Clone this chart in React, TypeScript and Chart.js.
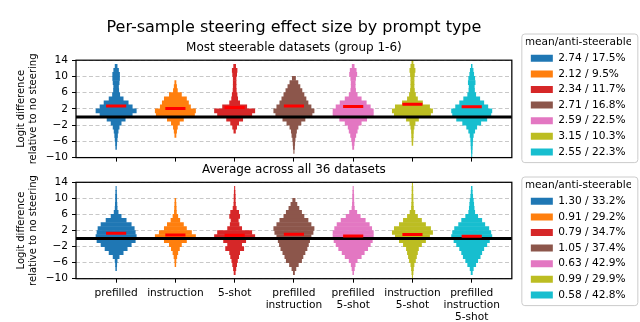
import React, { useEffect, useRef } from 'react';
import { Chart, registerables } from 'chart.js';

Chart.register(...registerables);

// ---------- data ----------
const categories: string[][] = [
  ['prefilled'],
  ['instruction'],
  ['5-shot'],
  ['prefilled', 'instruction'],
  ['prefilled', '5-shot'],
  ['instruction', '5-shot'],
  ['prefilled', 'instruction', '5-shot'],
];
const violinColors = ['#1f77b4', '#ff7f0e', '#d62728', '#8c564b', '#e377c2', '#bcbd22', '#17becf'];
const yTickValues = [-10, -6, -2, 2, 6, 10, 14];
// lower edges of the 1-unit histogram bins
const binLows = [-10, -9, -8, -7, -6, -5, -4, -3, -2, -1, 0, 1, 2, 3, 4, 5, 6, 7, 8, 9, 10, 11, 12, 13];

const topMeans = [2.74, 2.12, 2.34, 2.71, 2.59, 3.15, 2.55];
const topAntiSteerable = [17.5, 9.5, 11.7, 16.8, 22.5, 10.3, 22.3];
const bottomMeans = [1.3, 0.91, 0.79, 1.05, 0.63, 0.99, 0.58];
const bottomAntiSteerable = [33.2, 29.2, 34.7, 37.4, 42.9, 29.9, 42.8];

// relative violin widths per bin (1 = widest)
const topPrefilled = [0, 0, 0.02, 0.03, 0.05, 0.07, 0.1, 0.15, 0.25, 0.45, 0.8, 1.0, 0.8, 0.6, 0.35, 0.18, 0.13, 0.12, 0.15, 0.17, 0.17, 0.12, 0.05, 0];
const topInstruction = [0, 0, 0, 0, 0, 0.03, 0.06, 0.1, 0.2, 0.4, 0.95, 1.0, 0.75, 0.65, 0.55, 0.3, 0.1, 0.06, 0.03, 0, 0, 0, 0, 0];
const topFiveShot = [0, 0, 0, 0, 0, 0, 0.04, 0.1, 0.2, 0.4, 0.85, 1.0, 0.6, 0.25, 0.15, 0.12, 0.08, 0.07, 0.07, 0.07, 0.1, 0.12, 0.05, 0];
const topPrefInstr = [0, 0.01, 0.03, 0.04, 0.06, 0.1, 0.13, 0.2, 0.35, 0.55, 0.9, 1.0, 0.85, 0.7, 0.6, 0.5, 0.4, 0.3, 0.2, 0.08, 0, 0, 0, 0];
const topPrefFive = [0, 0, 0.03, 0.05, 0.08, 0.13, 0.2, 0.25, 0.4, 0.67, 1.0, 1.0, 0.85, 0.65, 0.4, 0.2, 0.12, 0.1, 0.1, 0.12, 0.18, 0.15, 0.05, 0];
const topInstrFive = [0, 0, 0, 0.02, 0.03, 0.04, 0.05, 0.08, 0.13, 0.3, 0.9, 1.0, 0.85, 0.5, 0.25, 0.15, 0.1, 0.08, 0.08, 0.08, 0.1, 0.13, 0.08, 0.03];
const topPrefInstrFive = [0.01, 0.02, 0.03, 0.04, 0.05, 0.08, 0.15, 0.25, 0.45, 0.75, 0.95, 1.0, 0.8, 0.6, 0.4, 0.2, 0.14, 0.13, 0.17, 0.15, 0.1, 0.07, 0.02, 0];

const bottomPrefilled = [0, 0, 0.02, 0.03, 0.05, 0.15, 0.35, 0.55, 0.75, 0.95, 1.0, 0.95, 0.9, 0.75, 0.5, 0.25, 0.1, 0.05, 0.04, 0.03, 0.03, 0.02, 0.01, 0];
const bottomInstruction = [0, 0, 0, 0.02, 0.03, 0.07, 0.12, 0.2, 0.3, 0.55, 1.0, 0.8, 0.55, 0.4, 0.22, 0.12, 0.05, 0.04, 0.03, 0.02, 0, 0, 0, 0];
const bottomFiveShot = [0, 0.03, 0.06, 0.1, 0.14, 0.2, 0.25, 0.45, 0.35, 0.55, 1.0, 0.85, 0.35, 0.22, 0.18, 0.25, 0.2, 0.08, 0.04, 0.03, 0.03, 0.02, 0.01, 0];
const bottomPrefInstr = [0, 0.03, 0.1, 0.22, 0.38, 0.45, 0.55, 0.65, 0.72, 0.78, 0.85, 0.95, 1.0, 0.85, 0.7, 0.5, 0.38, 0.25, 0.15, 0.06, 0, 0, 0, 0];
const bottomPrefFive = [0, 0.02, 0.06, 0.1, 0.2, 0.4, 0.55, 0.72, 0.85, 0.95, 1.0, 1.0, 0.92, 0.8, 0.6, 0.35, 0.18, 0.06, 0.04, 0.03, 0.03, 0.02, 0.01, 0];
const bottomInstrFive = [0.01, 0.03, 0.05, 0.08, 0.15, 0.2, 0.25, 0.3, 0.45, 0.65, 0.85, 1.0, 0.9, 0.65, 0.45, 0.25, 0.12, 0.05, 0.04, 0.03, 0.03, 0.02, 0.02, 0.01];
const bottomPrefInstrFive = [0, 0.03, 0.08, 0.2, 0.3, 0.42, 0.5, 0.6, 0.75, 0.88, 1.0, 0.95, 0.85, 0.65, 0.5, 0.3, 0.15, 0.12, 0.1, 0.08, 0.05, 0.03, 0.02, 0];

const topDensities = [topPrefilled, topInstruction, topFiveShot, topPrefInstr, topPrefFive, topInstrFive, topPrefInstrFive];
const bottomDensities = [bottomPrefilled, bottomInstruction, bottomFiveShot, bottomPrefInstr, bottomPrefFive, bottomInstrFive, bottomPrefInstrFive];

// ---------- styling constants ----------
const FONT = "'DejaVu Sans', sans-serif";
const HALF_WIDTH = 0.34;
const MEAN_HALF = 0.17;
const X_MIN = -0.677;
const X_MAX = 6.677;

Chart.defaults.font.family = FONT;
Chart.defaults.color = '#000';

const framePlugin = {
  id: 'frame',
  afterDraw(chart: any) {
    const { ctx, chartArea } = chart;
    ctx.save();
    ctx.strokeStyle = '#000';
    ctx.lineWidth = 1.25;
    ctx.strokeRect(chartArea.left, chartArea.top, chartArea.right - chartArea.left, chartArea.bottom - chartArea.top);
    ctx.restore();
  },
};

const legendFramePlugin = {
  id: 'legendFrame',
  afterDraw(chart: any) {
    const lg = chart.legend;
    if (!lg || !lg.legendHitBoxes || !lg.legendHitBoxes.length) return;
    const hb = lg.legendHitBoxes;
    const first = hb[0];
    const last = hb[hb.length - 1];
    const x0 = first.left - 9;
    const x1 = x0 + 116;
    const y0 = first.top - 19;
    const y1 = last.top + 16;
    const { ctx } = chart;
    ctx.save();
    ctx.strokeStyle = '#cccccc';
    ctx.lineWidth = 1;
    ctx.beginPath();
    const r = 3;
    ctx.moveTo(x0 + r, y0);
    ctx.arcTo(x1, y0, x1, y1, r);
    ctx.arcTo(x1, y1, x0, y1, r);
    ctx.arcTo(x0, y1, x0, y0, r);
    ctx.arcTo(x0, y0, x1, y0, r);
    ctx.closePath();
    ctx.stroke();
    ctx.restore();
  },
};

type PanelSpec = {
  densities: number[][];
  means: number[];
  anti: number[];
  title: string;
  subtitle?: string;
  showLabels: boolean;
  height: number;
  xAxisHeight: number;
  titlePad: { top: number; bottom: number };
  subtitlePad?: { top: number; bottom: number };
  legendTitleTop: number;
};

function buildConfig(p: PanelSpec): any {
  const bars = p.densities.map((dens, i) => ({
    type: 'bar',
    label: `${p.means[i].toFixed(2)} / ${p.anti[i].toFixed(1)}%`,
    indexAxis: 'y',
    data: binLows
      .map((lo, k) => ({ y: lo + 0.5, x: [i - dens[k] * HALF_WIDTH, i + dens[k] * HALF_WIDTH] }))
      .filter((_, k) => dens[k] > 0),
    backgroundColor: violinColors[i],
    borderWidth: 0,
    barPercentage: 1,
    categoryPercentage: 1,
    grouped: false,
    order: 2,
  }));
  const meanLines = p.means.map((m, i) => ({
    type: 'line',
    label: 'mean',
    data: [
      { x: i - MEAN_HALF, y: m },
      { x: i + MEAN_HALF, y: m },
    ],
    borderColor: '#ff0000',
    borderWidth: 3,
    pointRadius: 0,
    fill: false,
    order: 0,
  }));
  const zeroLine = {
    type: 'line',
    label: 'zero',
    data: [
      { x: X_MIN, y: 0 },
      { x: X_MAX, y: 0 },
    ],
    borderColor: '#000',
    borderWidth: 3,
    pointRadius: 0,
    fill: false,
    order: 1,
  };

  return {
    type: 'bar',
    data: { datasets: [...bars, zeroLine, ...meanLines] },
    options: {
      animation: false,
      responsive: false,
      devicePixelRatio: 1,
      events: [],
      layout: { padding: { left: 0, right: 9, top: 0, bottom: 0 } },
      plugins: {
        tooltip: { enabled: false },
        title: {
          display: true,
          text: p.title,
          fullSize: false,
          color: '#000',
          font: { size: p.subtitle ? 16 : 12, weight: 'normal', family: FONT },
          padding: p.titlePad,
        },
        subtitle: p.subtitle
          ? {
              display: true,
              text: p.subtitle,
              fullSize: false,
              color: '#000',
              font: { size: 12, weight: 'normal', family: FONT },
              padding: p.subtitlePad,
            }
          : { display: false },
        legend: {
          display: true,
          position: 'right',
          align: 'start',
          fullSize: true,
          title: {
            display: true,
            text: 'mean/anti-steerable',
            color: '#000',
            font: { size: 10.6, lineHeight: 1, family: FONT },
            padding: { top: p.legendTitleTop, bottom: 0 },
          },
          labels: {
            boxWidth: 22,
            boxHeight: 7,
            padding: 5,
            color: '#000',
            font: { size: 10.6, family: FONT },
            filter: (item: any) => item.datasetIndex < 7,
          },
        },
      },
      scales: {
        x: {
          type: 'linear',
          min: X_MIN,
          max: X_MAX,
          offset: false,
          afterBuildTicks: (s: any) => {
            s.ticks = categories.map((_, i) => ({ value: i }));
          },
          afterFit: (s: any) => {
            s.height = p.xAxisHeight;
          },
          ticks: {
            autoSkip: false,
            maxRotation: 0,
            minRotation: 0,
            padding: 4,
            color: '#000',
            font: { size: 10.6, lineHeight: 1.16, family: FONT },
            callback: (v: number) => (p.showLabels ? categories[Math.round(v)] : ''),
          },
          grid: {
            offset: false,
            drawOnChartArea: false,
            drawTicks: true,
            tickLength: 4,
            tickColor: '#000',
            tickWidth: 1,
          },
          border: { display: false },
        },
        y: {
          type: 'linear',
          min: -10,
          max: 14,
          offset: false,
          afterBuildTicks: (s: any) => {
            s.ticks = yTickValues.map((v) => ({ value: v }));
          },
          afterFit: (s: any) => {
            s.width = 76;
          },
          ticks: {
            padding: 4,
            color: '#000',
            font: { size: 10.6, family: FONT },
            callback: (v: number) => (v < 0 ? '\u2212' + Math.abs(v) : String(v)),
          },
          grid: {
            offset: false,
            color: '#c8c8c8',
            lineWidth: 1,
            drawTicks: true,
            tickLength: 4,
            tickColor: '#000',
            tickWidth: 1,
            tickBorderDash: [],
          },
          border: { display: false, dash: [4, 2.5] },
          title: {
            display: true,
            text: ['Logit difference', 'relative to no steering'],
            color: '#000',
            font: { size: 10, lineHeight: 1.15, family: FONT },
            padding: { top: 16, bottom: 0 },
          },
        },
        y2: {
          type: 'linear',
          position: 'right',
          display: true,
          grid: { display: false, drawTicks: false },
          ticks: { display: false },
          border: { display: false },
          afterFit: (s: any) => {
            s.width = 14;
          },
        },
      },
    },
    plugins: [framePlugin, legendFramePlugin],
  };
}

function ViolinPanel({ spec, top }: { spec: PanelSpec; top: number }) {
  const ref = useRef<HTMLCanvasElement | null>(null);
  useEffect(() => {
    if (!ref.current) return;
    const chart = new Chart(ref.current, buildConfig(spec));
    return () => chart.destroy();
  }, [spec]);
  return (
    <canvas
      ref={ref}
      width={640}
      height={spec.height}
      style={{ position: 'absolute', left: 0, top, width: 640, height: spec.height, display: 'block' }}
    />
  );
}

const topSpec: PanelSpec = {
  densities: topDensities,
  means: topMeans,
  anti: topAntiSteerable,
  title: 'Per-sample steering effect size by prompt type',
  subtitle: 'Most steerable datasets (group 1-6)',
  showLabels: false,
  height: 168,
  xAxisHeight: 10.4,
  titlePad: { top: 18.4, bottom: 0 },
  subtitlePad: { top: 3.2, bottom: 5 },
  legendTitleTop: 37.4,
};

const bottomSpec: PanelSpec = {
  densities: bottomDensities,
  means: bottomMeans,
  anti: bottomAntiSteerable,
  title: 'Average across all 36 datasets',
  showLabels: true,
  height: 162,
  xAxisHeight: 43.3,
  titlePad: { top: 2.8, bottom: 5.1 },
  legendTitleTop: 20.4,
};

export default function App() {
  return (
    <div style={{ position: 'fixed', left: 0, top: 0, width: 640, height: 322, background: '#fff', overflow: 'hidden' }}>
      <ViolinPanel spec={topSpec} top={0} />
      <ViolinPanel spec={bottomSpec} top={160} />
    </div>
  );
}
